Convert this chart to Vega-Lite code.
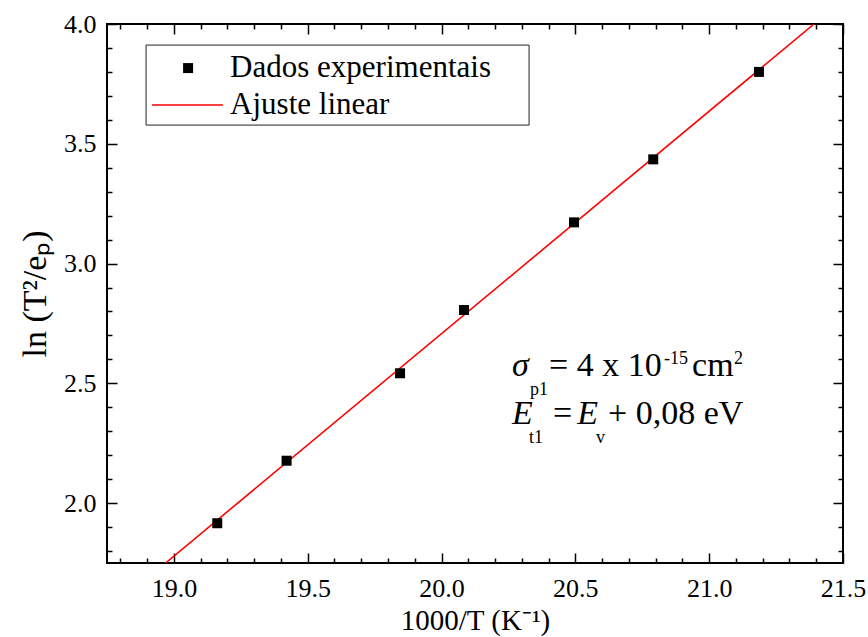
{
  "$schema": "https://vega.github.io/schema/vega-lite/v6.json",
  "width": 736,
  "height": 539,
  "autosize": {"type": "none"},
  "padding": {"left": 107, "top": 24, "right": 25, "bottom": 74},
  "background": "white",
  "config": {
    "view": {"stroke": "black", "strokeWidth": 2},
    "font": "Liberation Serif",
    "axis": {
      "domain": false,
      "grid": false,
      "tickColor": "black",
      "tickWidth": 1.5,
      "labelFont": "Liberation Serif",
      "labelFontSize": 26,
      "labelColor": "black",
      "titleFont": "Liberation Serif",
      "titleFontSize": 30,
      "titleFontWeight": "normal",
      "titleColor": "black"
    }
  },
  "resolve": {"axis": {"x": "independent", "y": "independent"}},
  "layer": [
    {
      "data": {"values": [{"x": 18.969, "y": 1.75}, {"x": 21.392, "y": 4.0}]},
      "mark": {"type": "line", "color": "#ff0000", "strokeWidth": 1.6, "clip": true},
      "encoding": {
        "x": {
          "field": "x", "type": "quantitative",
          "scale": {"domain": [18.75, 21.5], "nice": false, "zero": false},
          "axis": {
            "orient": "bottom",
            "title": "1000/T (K⁻¹)",
            "values": [18.8, 18.9, 19.0, 19.1, 19.2, 19.3, 19.4, 19.5, 19.6, 19.7, 19.8, 19.9, 20.0, 20.1, 20.2, 20.3, 20.4, 20.5, 20.6, 20.7, 20.8, 20.9, 21.0, 21.1, 21.2, 21.3, 21.4, 21.5],
            "tickSize": {"condition": {"test": "abs(datum.value*2-round(datum.value*2))<0.001", "value": -10}, "value": -5},
            "labelExpr": "abs(datum.value*2-round(datum.value*2))<0.001 ? format(datum.value, '.1f') : ''",
            "labelFont": "Liberation Serif",
            "labelFontSize": 26,
            "labelPadding": 22,
            "labelFlush": false,
            "labelOverlap": false,
            "titleFont": "Liberation Serif",
            "titleFontSize": 29,
            "titlePadding": 0
          }
        },
        "y": {
          "field": "y", "type": "quantitative",
          "scale": {"domain": [1.75, 4.0], "nice": false, "zero": false},
          "axis": {
            "orient": "left",
            "title": "ln (T²/eₚ)",
            "values": [1.8, 1.9, 2.0, 2.1, 2.2, 2.3, 2.4, 2.5, 2.6, 2.7, 2.8, 2.9, 3.0, 3.1, 3.2, 3.3, 3.4, 3.5, 3.6, 3.7, 3.8, 3.9, 4.0],
            "tickSize": {"condition": {"test": "abs(datum.value*2-round(datum.value*2))<0.001", "value": -10}, "value": -5},
            "labelExpr": "abs(datum.value*2-round(datum.value*2))<0.001 ? format(datum.value, '.1f') : ''",
            "labelFont": "Liberation Serif",
            "labelFontSize": 26,
            "labelPadding": 21,
            "labelFlush": false,
            "labelOverlap": false,
            "titleFont": "Liberation Serif",
            "titleFontSize": 34,
            "titlePadding": 11
          }
        }
      }
    },
    {
      "data": {"values": [
        {"x": 19.162, "y": 1.916},
        {"x": 19.421, "y": 2.177},
        {"x": 19.845, "y": 2.542},
        {"x": 20.084, "y": 2.806},
        {"x": 20.495, "y": 3.172},
        {"x": 20.791, "y": 3.435},
        {"x": 21.186, "y": 3.800}
      ]},
      "mark": {"type": "point", "shape": "square", "filled": true, "color": "black", "size": 100, "opacity": 1},
      "encoding": {
        "x": {
          "field": "x", "type": "quantitative",
          "axis": {
            "orient": "top",
            "title": null,
            "values": [18.8, 18.9, 19.0, 19.1, 19.2, 19.3, 19.4, 19.5, 19.6, 19.7, 19.8, 19.9, 20.0, 20.1, 20.2, 20.3, 20.4, 20.5, 20.6, 20.7, 20.8, 20.9, 21.0, 21.1, 21.2, 21.3, 21.4, 21.5],
            "tickSize": {"condition": {"test": "abs(datum.value*2-round(datum.value*2))<0.001", "value": -10}, "value": -5},
            "labels": false
          }
        },
        "y": {
          "field": "y", "type": "quantitative",
          "axis": {
            "orient": "right",
            "title": null,
            "values": [1.8, 1.9, 2.0, 2.1, 2.2, 2.3, 2.4, 2.5, 2.6, 2.7, 2.8, 2.9, 3.0, 3.1, 3.2, 3.3, 3.4, 3.5, 3.6, 3.7, 3.8, 3.9, 4.0],
            "tickSize": {"condition": {"test": "abs(datum.value*2-round(datum.value*2))<0.001", "value": -10}, "value": -5},
            "labels": false
          }
        }
      }
    },
    {
      "data": {"values": [{"x1": 18.896, "x2": 20.327, "y1": 3.912, "y2": 3.578}]},
      "mark": {"type": "rect", "fill": "white", "stroke": "#222222", "strokeWidth": 1},
      "encoding": {
        "x": {"field": "x1", "type": "quantitative", "axis": null},
        "x2": {"field": "x2"},
        "y": {"field": "y1", "type": "quantitative", "axis": null},
        "y2": {"field": "y2"}
      }
    },
    {
      "data": {"values": [{"x": 19.053, "y": 3.816}]},
      "mark": {"type": "point", "shape": "square", "filled": true, "color": "black", "size": 100, "opacity": 1},
      "encoding": {
        "x": {"field": "x", "type": "quantitative", "axis": null},
        "y": {"field": "y", "type": "quantitative", "axis": null}
      }
    },
    {
      "data": {"values": [{"x1": 18.918, "x2": 19.183, "y": 3.662}]},
      "mark": {"type": "rule", "color": "#ff0000", "strokeWidth": 1.6},
      "encoding": {
        "x": {"field": "x1", "type": "quantitative", "axis": null},
        "x2": {"field": "x2"},
        "y": {"field": "y", "type": "quantitative", "axis": null}
      }
    },
    {
      "data": {"values": [
        {"x": 19.21, "y": 3.816, "t": "Dados experimentais"},
        {"x": 19.21, "y": 3.662, "t": "Ajuste linear"}
      ]},
      "mark": {"type": "text", "align": "left", "baseline": "middle", "fontSize": 31, "font": "Liberation Serif", "color": "black"},
      "encoding": {
        "x": {"field": "x", "type": "quantitative", "axis": null},
        "y": {"field": "y", "type": "quantitative", "axis": null},
        "text": {"field": "t"}
      }
    },
    {
      "data": {"values": [
        {"x": 20.2635, "y": 2.531, "t": "σ"},
        {"x": 20.2635, "y": 2.331, "t": "E"},
        {"x": 20.507, "y": 2.331, "t": "E"}
      ]},
      "mark": {"type": "text", "align": "left", "baseline": "alphabetic", "fontSize": 34, "fontStyle": "italic", "font": "Liberation Serif", "color": "black"},
      "encoding": {
        "x": {"field": "x", "type": "quantitative", "axis": null},
        "y": {"field": "y", "type": "quantitative", "axis": null},
        "text": {"field": "t"}
      }
    },
    {
      "data": {"values": [
        {"x": 20.4017, "y": 2.531, "t": "= 4 x 10"},
        {"x": 20.9361, "y": 2.531, "t": "cm"},
        {"x": 20.4167, "y": 2.331, "t": "="},
        {"x": 20.6222, "y": 2.331, "t": "+ 0,08 eV"}
      ]},
      "mark": {"type": "text", "align": "left", "baseline": "alphabetic", "fontSize": 34, "font": "Liberation Serif", "color": "black"},
      "encoding": {
        "x": {"field": "x", "type": "quantitative", "axis": null},
        "y": {"field": "y", "type": "quantitative", "axis": null},
        "text": {"field": "t"}
      }
    },
    {
      "data": {"values": [
        {"x": 20.3307, "y": 2.452, "t": "p1"},
        {"x": 20.327, "y": 2.251, "t": "t1"},
        {"x": 20.5774, "y": 2.251, "t": "v"},
        {"x": 20.8315, "y": 2.581, "t": "-15"},
        {"x": 21.093, "y": 2.581, "t": "2"}
      ]},
      "mark": {"type": "text", "align": "left", "baseline": "alphabetic", "fontSize": 18, "font": "Liberation Serif", "color": "black"},
      "encoding": {
        "x": {"field": "x", "type": "quantitative", "axis": null},
        "y": {"field": "y", "type": "quantitative", "axis": null},
        "text": {"field": "t"}
      }
    }
  ]
}
